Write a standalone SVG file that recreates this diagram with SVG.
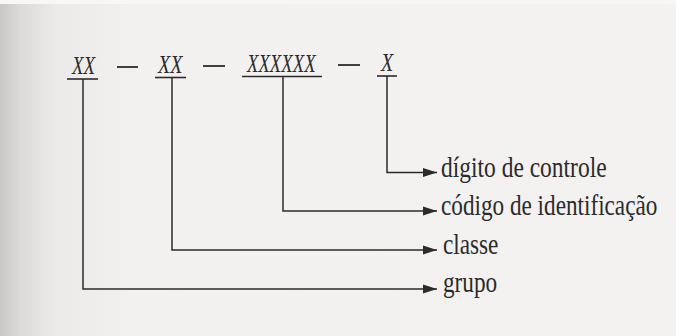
<svg xmlns="http://www.w3.org/2000/svg" width="676" height="336" viewBox="0 0 676 336">
<defs>
<linearGradient id="shade" x1="0" y1="0" x2="1" y2="0">
<stop offset="0" stop-color="#c9c7c5"/>
<stop offset="0.03" stop-color="#dddbd9"/>
<stop offset="0.08" stop-color="#eceae8"/>
<stop offset="0.2" stop-color="#f2f1ef"/>
<stop offset="1" stop-color="#f3f2f0"/>
</linearGradient>
<marker id="arr" markerUnits="userSpaceOnUse" markerWidth="14" markerHeight="10" refX="14" refY="5" orient="auto">
<path d="M0,0.5 L14,5 L0,9.5 Z" fill="#2b2b2b"/>
</marker>
<style>
.code{font-family:"Liberation Serif","Times New Roman",serif;font-style:italic;font-size:26px;fill:#2b2b2b}
.lbl{font-family:"Liberation Serif","Times New Roman",serif;font-size:29px;fill:#2b2b2b}
.ul{stroke:#2b2b2b;stroke-width:1.6;fill:none}
.dash{stroke:#2b2b2b;stroke-width:1.8}
.conn{stroke:#2b2b2b;stroke-width:1.5;fill:none;marker-end:url(#arr)}
</style>
</defs>
<rect width="676" height="336" fill="url(#shade)"/>
<rect width="676" height="4" fill="#f7f7f6"/>
<g id="code">
<g id="seg-grupo"><text class="code" transform="translate(72,74) scale(0.73,1)">XX</text><line class="ul" x1="67" y1="79" x2="98" y2="79"/></g>
<line class="dash" x1="117" y1="67" x2="138" y2="67"/>
<g id="seg-classe"><text class="code" transform="translate(158,73) scale(0.77,1)">XX</text><line class="ul" x1="155" y1="77.5" x2="186" y2="77.5"/></g>
<line class="dash" x1="203" y1="66" x2="225" y2="66"/>
<g id="seg-codigo"><text class="code" transform="translate(247,72) scale(0.72,1)">XXXXXX</text><line class="ul" x1="242" y1="76.5" x2="322" y2="76.5"/></g>
<line class="dash" x1="338" y1="65" x2="360" y2="65"/>
<g id="seg-digito"><text class="code" transform="translate(381,71) scale(0.77,1)">X</text><line class="ul" x1="377" y1="76" x2="397" y2="76"/></g>
</g>
<g id="connectors">
<path class="conn" d="M83,79 V289 H437"/>
<path class="conn" d="M172,77.5 V250 H437"/>
<path class="conn" d="M283,76.5 V211 H437"/>
<path class="conn" d="M387,76 V172.5 H437"/>
</g>
<g id="lbl-digito"><text class="lbl" transform="translate(441,177) scale(0.81,1)">dígito de controle</text></g>
<g id="lbl-codigo"><text class="lbl" transform="translate(441,215) scale(0.8,1)">código de identificação</text></g>
<g id="lbl-classe"><text class="lbl" transform="translate(443,254) scale(0.8,1)">classe</text></g>
<g id="lbl-grupo"><text class="lbl" transform="translate(443,292) scale(0.8,1)">grupo</text></g>
</svg>
